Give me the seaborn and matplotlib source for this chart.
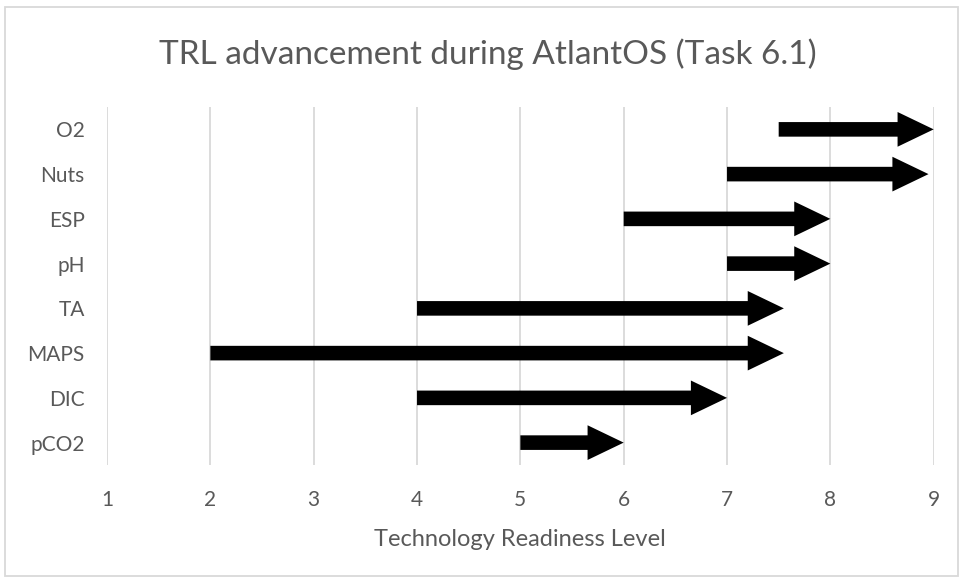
import matplotlib
matplotlib.use("Agg")
import matplotlib.pyplot as plt
import seaborn as sns
from matplotlib.patches import Rectangle

sns.set_theme(style="white")
plt.rcParams['font.family'] = ['Lato', 'DejaVu Sans']

# TRL start / end per instrument (bottom to top)
sensors = ["pCO2", "DIC", "MAPS", "TA", "pH", "ESP", "Nuts", "O2"]
trl_start = [5, 4, 2, 4, 7, 6, 7, 7.5]
trl_end = [6, 7, 7.55, 7.55, 8, 8, 8.95, 9]
x_ticks = [1, 2, 3, 4, 5, 6, 7, 8, 9]

text_col = '#595959'
grid_col = '#d9d9d9'

fig = plt.figure(figsize=(9.59, 5.78), dpi=100)
ax = fig.add_axes([0.1116, 0.1955, 0.862, 0.6194])

# one arrow per sensor, start -> end
for i, (s, e) in enumerate(zip(trl_start, trl_end)):
    ax.annotate('', xy=(e, i), xytext=(s, i),
                arrowprops=dict(arrowstyle='simple,head_length=26,head_width=25,tail_width=10.5',
                                mutation_scale=1, color='black', lw=0,
                                shrinkA=0, shrinkB=0))

ax.set_xlim(1, 9)
ax.set_ylim(-0.5, len(sensors) - 0.5)
ax.set_xticks(x_ticks)
ax.set_xticklabels([str(t) for t in x_ticks])
ax.set_yticks(range(len(sensors)))
ax.set_yticklabels(sensors)
ax.tick_params(axis='both', length=0, labelsize=15, colors=text_col)
ax.tick_params(axis='y', pad=16)
ax.tick_params(axis='x', pad=18)
ax.grid(axis='x', color=grid_col, linewidth=1.3)
ax.grid(axis='y', visible=False)
sns.despine(ax=ax, left=True, bottom=True)

ax.set_xlabel('Technology Readiness Level', fontsize=17, color=text_col, labelpad=14)
fig.text(0.509, 0.907, 'TRL advancement during AtlantOS (Task 6.1)', ha='center', va='center',
         fontsize=24, color=text_col)

# outer chart border
fig.patches.append(Rectangle((0.005, 0.003), 0.994, 0.985, transform=fig.transFigure,
                             fill=False, edgecolor=grid_col, linewidth=1.3))

fig.savefig('out.png', dpi=100)
